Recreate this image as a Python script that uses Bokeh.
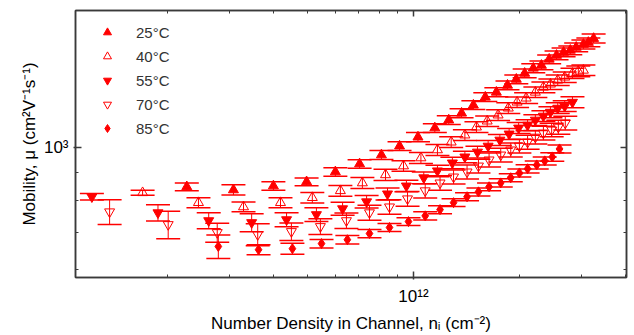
from bokeh.plotting import figure
from bokeh.models import (ColumnDataSource, Whisker, TeeHead, FixedTicker, LogAxis)
from bokeh.embed import file_html
from bokeh.resources import INLINE

# Number density n_i in units of 1e11 cm^-2, mobility in cm^2 V^-1 s^-1
n25 = [2.27, 3.08, 4.00, 4.97, 6.00, 7.03, 8.11, 9.13, 10.3, 11.5, 12.6, 13.7, 14.8, 16.0,
       17.2, 18.5, 19.6, 20.7, 21.9, 23.1, 24.3, 25.5, 26.7, 27.9, 29.0, 30.4, 31.4, 32.5]
mu25 = [849, 838, 852, 867, 904, 935, 971, 1008, 1047, 1088, 1125, 1158, 1198, 1239,
        1265, 1303, 1336, 1370, 1400, 1417, 1454, 1478, 1497, 1510, 1529, 1548, 1561, 1587]
err25 = [14, 18, 15, 14, 16, 17, 18, 19, 20, 20, 21, 22, 22, 23,
         24, 24, 25, 25, 26, 26, 27, 27, 28, 28, 28, 29, 29, 30]

n40 = [1.70, 2.45, 3.29, 4.19, 5.16, 6.20, 7.16, 8.33, 9.37, 10.5, 11.7, 12.8, 14.0, 15.1,
       16.2, 17.4, 18.6, 19.7, 20.9, 22.2, 23.4, 24.5, 25.7, 26.9, 28.3, 29.4, 30.4]
mu40 = [828, 794, 780, 794, 811, 835, 863, 893, 927, 959, 992, 1025, 1056, 1092,
        1120, 1149, 1183, 1213, 1234, 1265, 1292, 1309, 1331, 1348, 1370, 1382, 1388]
err40 = [9, 17, 16, 17, 18, 19, 20, 21, 21, 22, 23, 23, 24, 25,
         25, 26, 27, 27, 28, 28, 29, 29, 30, 30, 30, 31, 31]

n55 = [1.22, 1.88, 2.62, 3.47, 4.36, 5.30, 6.29, 7.36, 8.44, 9.55, 10.7, 11.7, 12.9, 14.0,
       15.2, 16.3, 17.6, 18.7, 19.9, 21.1, 22.2, 23.4, 24.5, 25.7, 26.9, 28.3]
mu55 = [814, 761, 736, 730, 739, 755, 774, 797, 824, 852, 882, 908, 939, 963,
        983, 1008, 1034, 1061, 1088, 1101, 1125, 1144, 1163, 1183, 1193, 1213]
err55 = [11, 26, 25, 28, 22, 22, 21, 21, 21, 21, 22, 22, 23, 23,
         24, 24, 24, 25, 25, 26, 26, 26, 27, 27, 27, 28]

n70 = [1.37, 2.01, 2.77, 3.61, 4.50, 5.44, 6.45, 7.50, 8.55, 9.62, 10.8, 11.9, 13.0, 14.2,
       15.3, 16.4, 17.7, 18.9, 20.0, 21.1, 22.2, 23.4, 24.7, 25.8, 27.0]
mu70 = [764, 724, 700, 694, 703, 718, 736, 761, 780, 807, 835, 863, 885, 904,
        927, 951, 971, 992, 1008, 1025, 1047, 1065, 1079, 1092, 1111]
err70 = [40, 42, 28, 32, 26, 24, 24, 24, 24, 25, 25, 26, 26, 27,
         27, 28, 28, 29, 29, 30, 30, 31, 31, 32, 32]

n85 = [2.79, 3.63, 4.53, 5.48, 6.49, 7.50, 8.55, 9.68, 10.8, 11.9, 13.0, 14.2, 15.3, 16.4,
       17.7, 18.9, 20.0, 21.1, 22.4, 23.6, 24.8, 26.0]
mu85 = [660, 651, 654, 668, 679, 697, 715, 733, 751, 771, 794, 814, 831, 849,
        863, 882, 900, 916, 931, 947, 963, 996]
err85 = [33, 14, 15, 12, 12, 12, 12, 12, 13, 13, 13, 14, 14, 14,
         15, 15, 15, 16, 16, 16, 17, 17]

labels = ["25°C", "40°C", "55°C", "70°C", "85°C"]
x_major = [1e12]
x_minor = [2e11, 3e11, 4e11, 5e11, 6e11, 7e11, 8e11, 9e11, 2e12, 3e12, 4e12]
y_major = [1000]
y_minor = [600, 700, 800, 900]
x_tick_label = "10¹²"
y_tick_label = "10³"

RED = "#ff0000"
FONT = "Liberation Sans"
AX = "#3a3a3a"

p = figure(width=634, height=335, x_axis_type="log", y_axis_type="log",
           x_range=(1.096e11, 4.03e12), y_range=(579, 1786),
           output_backend="svg", toolbar_location=None,
           min_border_left=75, min_border_right=8, min_border_top=10, min_border_bottom=57)
p.xgrid.visible = False
p.ygrid.visible = False
p.outline_line_color = AX
p.outline_line_width = 1.5

series = [
    (n25, mu25, err25, "triangle", True),
    (n40, mu40, err40, "triangle", False),
    (n55, mu55, err55, "inverted_triangle", True),
    (n70, mu70, err70, "inverted_triangle", False),
    (n85, mu85, err85, "diamond", True),
]

for (n, mu, err, marker, filled), lab in zip(series, labels):
    src = ColumnDataSource(dict(
        x=[v * 1e11 for v in n], y=mu,
        upper=[m + e for m, e in zip(mu, err)],
        lower=[m - e for m, e in zip(mu, err)],
    ))
    w = Whisker(source=src, base="x", upper="upper", lower="lower", dimension="height",
                line_color=RED, line_width=1,
                upper_head=TeeHead(size=24, line_color=RED, line_width=1.5),
                lower_head=TeeHead(size=24, line_color=RED, line_width=1.5),
                level="underlay")
    p.add_layout(w)
    if filled:
        p.scatter("x", "y", source=src, marker=marker, size=10,
                  fill_color=RED, line_color=RED, line_width=1, legend_label=lab)
    else:
        p.scatter("x", "y", source=src, marker=marker, size=10,
                  fill_alpha=0, line_color=RED, line_width=1, legend_label=lab)

xt = FixedTicker(ticks=x_major, minor_ticks=x_minor)
yt = FixedTicker(ticks=y_major, minor_ticks=y_minor)


def style_axis(ax, show_labels):
    ax.axis_line_color = AX
    ax.axis_line_width = 1.5
    ax.major_tick_line_color = AX
    ax.minor_tick_line_color = AX
    ax.major_tick_line_width = 1.5
    ax.minor_tick_line_width = 1
    ax.major_tick_in = 6
    ax.minor_tick_in = 3
    ax.minor_tick_out = 0
    if show_labels:
        ax.major_tick_out = 2
        ax.major_label_text_font = FONT
        ax.major_label_text_font_size = "17px"
        ax.major_label_text_color = "#000000"
    else:
        ax.major_tick_out = 0
        ax.major_label_text_font_size = "2px"
        ax.major_label_text_alpha = 0
        ax.major_label_standoff = 0


p.xaxis.ticker = xt
p.yaxis.ticker = yt
p.xaxis.major_label_overrides = {1e12: x_tick_label}
p.yaxis.major_label_overrides = {1000: y_tick_label}
style_axis(p.xaxis[0], True)
style_axis(p.yaxis[0], True)
p.xaxis.axis_label = "Number Density in Channel, nᵢ (cm⁻²)"
p.yaxis.axis_label = "Mobility, μ (cm²V⁻¹s⁻¹)"
for ax in (p.xaxis[0], p.yaxis[0]):
    ax.axis_label_text_font = FONT
    ax.axis_label_text_font_size = "17px"
    ax.axis_label_text_font_style = "normal"
    ax.axis_label_text_color = "#000000"
p.xaxis.major_label_standoff = 7
p.xaxis.axis_label_standoff = 5
p.yaxis.major_label_standoff = 5
p.yaxis.axis_label_standoff = 2

top = LogAxis(ticker=xt)
right = LogAxis(ticker=yt)
style_axis(top, False)
style_axis(right, False)
p.add_layout(top, "above")
p.add_layout(right, "right")

lg = p.legend[0]
lg.location = "top_left"
lg.margin = 12
lg.padding = 7
lg.spacing = 4
lg.glyph_width = 40
lg.glyph_height = 20
lg.label_height = 20
lg.label_standoff = 9
lg.label_text_font = FONT
lg.label_text_font_size = "15px"
lg.label_text_color = "#333333"
lg.border_line_color = None
lg.background_fill_alpha = 0

open("out.html", "w").write(file_html(p, INLINE))
